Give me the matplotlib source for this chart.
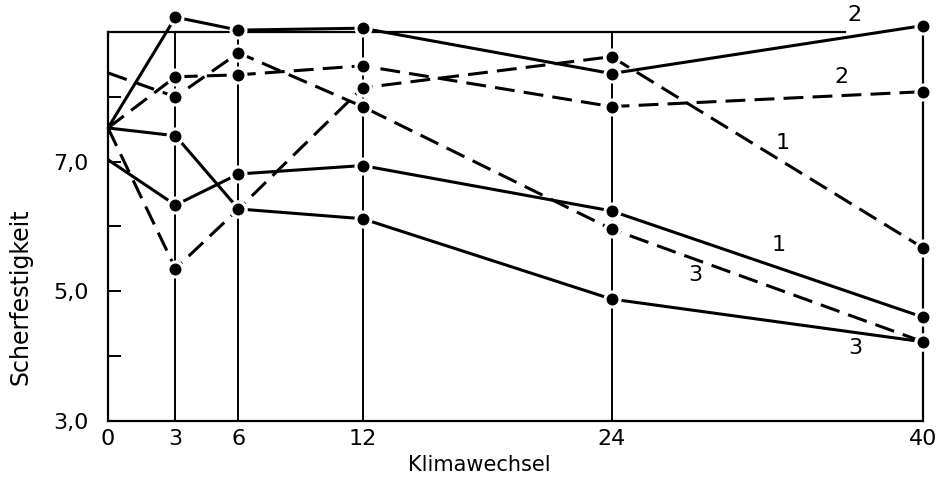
import numpy as np
import matplotlib
matplotlib.use("Agg")
import matplotlib.pyplot as plt

# Klimawechsel (cycles) and shear strength
cycles = [0, 3, 6, 12, 24, 40]
solid_1 = [7.03, 6.33, 6.81, 6.94, 6.24, 4.60]
solid_2 = [7.52, 9.23, 9.03, 9.06, 8.36, 9.10]
solid_3 = [7.52, 7.40, 6.27, 6.12, 4.88, 4.22]
dashed_1 = [7.52, 5.35, 6.27, 8.14, 8.62, 5.67]
dashed_2 = [7.52, 8.31, 8.34, 8.48, 7.85, 8.08]
dashed_3 = [8.37, 8.00, 8.68, 7.85, 5.96, 4.22]

# curve labels: (text, x, y)
labels = [("2", 36.5, 9.27), ("2", 35.8, 8.31), ("1", 32.8, 7.29),
          ("1", 32.6, 5.72), ("3", 28.3, 5.25), ("3", 36.5, 4.13)]

ytick_major = [3, 5, 7]
ytick_minor = [4, 6, 8]
ytick_labels = ["3,0", "5,0", "7,0"]

# the hand-drawn x axis is only roughly linear: map ticks to drawn positions
KNOTS = [0, 3, 6, 12, 24, 40]
DRAWN = [0, 67.5, 130.5, 254.5, 503.5, 815]

def fwd(x):
    return np.interp(x, KNOTS, DRAWN)

def inv(p):
    return np.interp(p, DRAWN, KNOTS)

plt.rcParams["font.family"] = ["DejaVu Sans"]

fig = plt.figure(figsize=(9.39, 4.86), dpi=100)
ax = fig.add_axes([0.115, 0.134, 0.868, 0.800])
ax.set_xscale("function", functions=(fwd, inv))
ax.set_xlim(0, 40)
ax.set_ylim(3, 9)

LW = 2.2
dash = (0, (6.5, 3.0))

# vertical guide lines at each cycle count
for c in cycles[1:-1]:
    ax.plot([c, c], [3, 9], color="black", lw=1.4, zorder=1, clip_on=False)
ax.plot([40, 40], [3, 9.10], color="black", lw=1.6, zorder=1, clip_on=False)
# top frame stops short of the label
ax.plot([0, 36.0], [9, 9], color="black", lw=1.6, zorder=1, clip_on=False)

series = [(solid_1, "-"), (solid_2, "-"), (solid_3, "-"),
          (dashed_1, dash), (dashed_2, dash), (dashed_3, dash)]
for ys, ls in series:
    ax.plot(cycles, ys, color="black", lw=LW, ls=ls, zorder=2, clip_on=False,
            solid_capstyle="butt", dash_capstyle="butt")
for ys, ls in series:
    ax.plot(cycles[1:], ys[1:], "o", ms=10.8, mfc="black", mec="white",
            mew=2.2, zorder=4, clip_on=False)

for t, x, y in labels:
    ax.text(x, y, t, fontsize=16, ha="center", va="center", zorder=5)

for s in ["top", "right"]:
    ax.spines[s].set_visible(False)
for s in ["left", "bottom"]:
    ax.spines[s].set_linewidth(1.6)

ax.set_xticks(cycles)
ax.set_xticklabels([str(c) for c in cycles], fontsize=16)
ax.tick_params(axis="x", length=0, pad=6)
ax.set_yticks(ytick_major)
ax.set_yticklabels(ytick_labels, fontsize=16)
ax.set_yticks(ytick_minor, minor=True)
ax.tick_params(axis="y", which="both", direction="in", length=9, width=1.4, pad=14)

ax.set_xlabel("Klimawechsel", fontsize=15)
ax.xaxis.set_label_coords(0.456, -0.087)
ax.set_ylabel("Scherfestigkeit", fontsize=17)
ax.yaxis.set_label_coords(-0.093, 0.32)

fig.savefig("out.png", dpi=100)
